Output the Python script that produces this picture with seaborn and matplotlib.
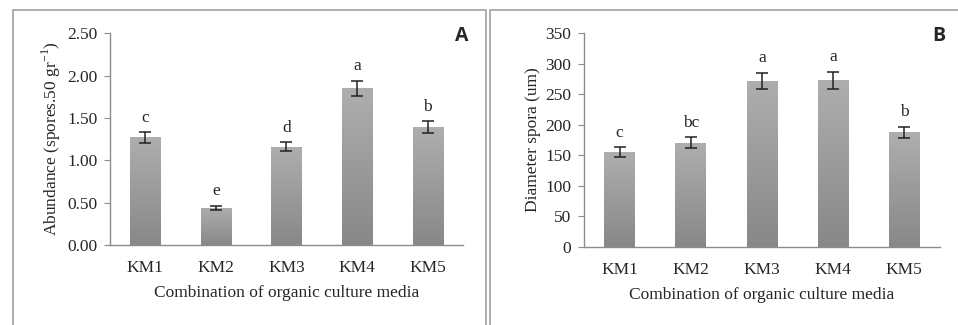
import numpy as np
import pandas as pd
import matplotlib
matplotlib.use("Agg")
import matplotlib.pyplot as plt
from matplotlib.patches import Rectangle
from matplotlib.colors import LinearSegmentedColormap
import seaborn as sns

# data
media = ["KM1", "KM2", "KM3", "KM4", "KM5"]
abundance = [1.27, 0.44, 1.16, 1.85, 1.39]
abundance_err = [0.065, 0.025, 0.055, 0.09, 0.07]
abundance_grp = ["c", "e", "d", "a", "b"]
diameter = [155, 171, 272, 273, 188]
diameter_err = [8, 9, 13.5, 14, 9]
diameter_grp = ["c", "bc", "a", "a", "b"]

sns.set_style("white")
plt.rcParams["font.family"] = ["Liberation Serif", "DejaVu Serif"]
plt.rcParams["mathtext.fontset"] = "custom"
plt.rcParams["mathtext.rm"] = "Liberation Serif"

grad = LinearSegmentedColormap.from_list("bar", ["#888888", "#aeaeae"])
edge = "#8c8c8c"
fs = 12.5

fig = plt.figure(figsize=(9.58, 3.25), dpi=100)

# panel frames
for x0, w in [(13, 473), (490, 480)]:
    fig.patches.append(Rectangle((x0 / 958, -0.1), w / 958, 1.1 - 10 / 325,
                                 transform=fig.transFigure, fill=False,
                                 edgecolor="#a0a0a0", lw=1.2))


def panel(rect, vals, errs, grps, ylim, step, fmt, ylabel, tag):
    ax = fig.add_axes(rect)
    df = pd.DataFrame({"media": media, "val": vals})
    sns.barplot(data=df, x="media", y="val", color="#9a9a9a", width=0.43,
                errorbar=None, ax=ax)
    for p in ax.patches:
        x0, y0 = p.get_x(), p.get_y()
        w, h = p.get_width(), p.get_height()
        im = ax.imshow(np.linspace(0, 1, 100).reshape(-1, 1), cmap=grad,
                       extent=[x0, x0 + w, y0, y0 + h], origin="lower",
                       aspect="auto", zorder=2)
        im.set_clip_path(p)
        p.set_edgecolor("none")
    ax.errorbar(range(len(media)), vals, yerr=errs, fmt="none", ecolor="#222222",
                elinewidth=1.1, capsize=4, capthick=1.1, zorder=4)
    top = ylim[1]
    for i, (v, e, g) in enumerate(zip(vals, errs, grps)):
        ax.text(i, v + e + top * 0.03, g, ha="center", va="bottom", fontsize=fs)
    ax.set_xlim(-0.5, len(media) - 0.5)
    ax.set_ylim(*ylim)
    ax.set_yticks(np.arange(ylim[0], ylim[1] + step / 2, step))
    ax.set_yticklabels([fmt.format(t) for t in ax.get_yticks()])
    ax.set_xticks(np.arange(-0.5, len(media)), minor=True)
    ax.tick_params(axis="x", which="major", length=0, labelsize=fs, pad=11)
    ax.tick_params(axis="x", which="minor", length=4, color=edge, direction="out")
    ax.tick_params(axis="y", length=4, color=edge, direction="out", labelsize=fs,
                   left=True, pad=5)
    ax.set_xlabel("Combination of organic culture media", fontsize=fs, labelpad=6)
    ax.set_ylabel(ylabel, fontsize=fs, labelpad=3)
    for s in ["top", "right"]:
        ax.spines[s].set_visible(False)
    for s in ["left", "bottom"]:
        ax.spines[s].set_color(edge)
        ax.spines[s].set_linewidth(1.0)
    ax.text(1.015, 1.035, tag, transform=ax.transAxes, ha="right", va="top",
            fontsize=14, fontweight="bold", family=["Open Sans", "DejaVu Sans"])
    return ax


panel([0.1148, 0.246, 0.3685, 0.652], abundance, abundance_err, abundance_grp,
      (0, 2.5), 0.5, "{:.2f}", r"Abundance (spores.50 gr$^{\mathrm{-1}}$)", "A")
panel([0.6096, 0.240, 0.3714, 0.658], diameter, diameter_err, diameter_grp,
      (0, 350), 50, "{:.0f}", "Diameter spora (um)", "B")

fig.savefig("out.png", dpi=100)
